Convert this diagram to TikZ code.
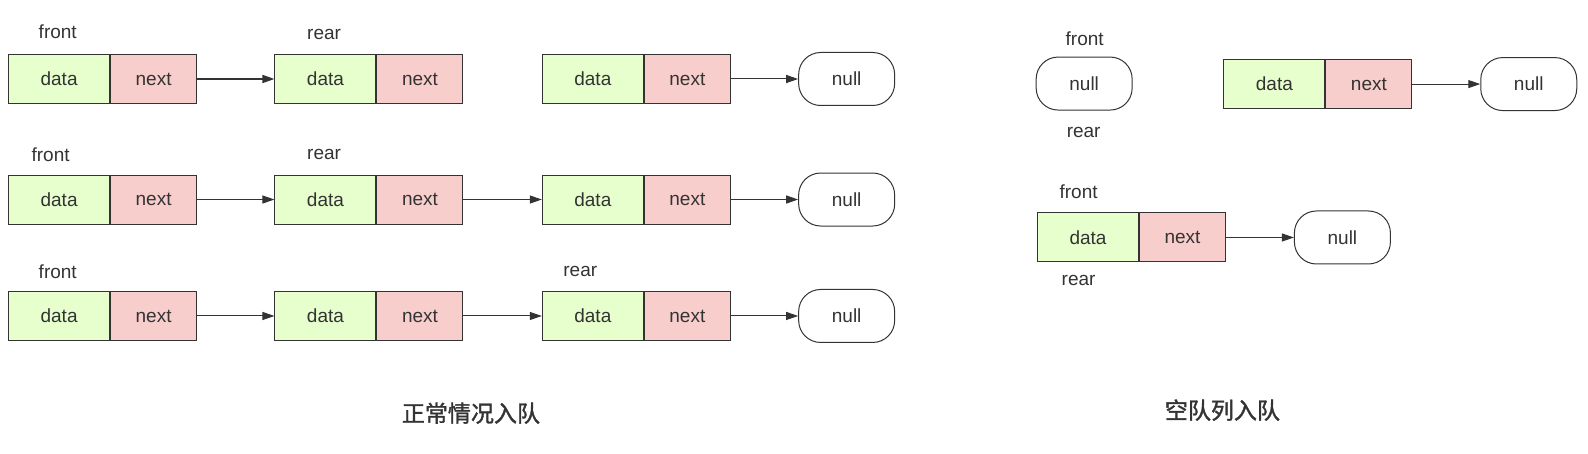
\documentclass[tikz,border=0pt]{standalone}
\usepackage{fontspec}
\setmainfont{Liberation Sans}
\newfontfamily\cjk[FakeBold=1.5]{Noto Sans CJK SC}
\usetikzlibrary{arrows.meta}
\definecolor{dgreen}{HTML}{E6FFCC}
\definecolor{npink}{HTML}{F8CECC}
\definecolor{ln}{HTML}{333333}
\tikzset{
  x=1.01276pt,y=-1.01276pt,
  cell/.style={draw=ln,line width=1pt,minimum height=49pt,inner sep=0pt,font=\fontsize{19}{22}\selectfont,text=ln},
  datac/.style={cell,fill=dgreen,minimum width=101pt,anchor=west},
  nextc/.style={cell,fill=npink,minimum width=86pt,anchor=west},
  nullc/.style={draw=ln,line width=1pt,rounded corners=22pt,minimum width=96pt,minimum height=53pt,inner sep=0pt,font=\fontsize{19}{22}\selectfont,text=ln},
  lbl/.style={font=\fontsize{19}{22}\selectfont,text=ln,inner sep=0pt},
  ttl/.style={font=\cjk\fontsize{23}{27}\selectfont,text=ln,inner sep=0pt},
  arr/.style={draw=ln,line width=1pt,-{Triangle[length=12pt,width=8pt]}},
}
\begin{document}
\begin{tikzpicture}
\useasboundingbox (0,0) rectangle (1568,448.28);
% row 1
\node[datac] (d11) at (8,78) {data};
\node[nextc] (n11) at (d11.east) {next};
\node[datac] (d12) at (271,78) {data};
\node[nextc] (n12) at (d12.east) {next};
\node[datac] (d13) at (535,78) {data};
\node[nextc] (n13) at (d13.east) {next};
\node[nullc] (z1) at (836,78) {null};
\node[lbl] (f1) at (57,31) {front};
\node[lbl] (r1) at (320,34) {rear};
\draw[arr,line width=1.6pt] (n11.east) -- (d12.west);
\draw[arr] (n13.east) -- (z1.west);
% row 2
\node[datac] (d21) at (8,197) {data};
\node[nextc] (n21) at (d21.east) {next};
\node[datac] (d22) at (271,197) {data};
\node[nextc] (n22) at (d22.east) {next};
\node[datac] (d23) at (535,197) {data};
\node[nextc] (n23) at (d23.east) {next};
\node[nullc] (z2) at (836,197) {null};
\node[lbl] (f2) at (50,153) {front};
\node[lbl] (r2) at (320,153) {rear};
\draw[arr] (n21.east) -- (d22.west);
\draw[arr] (n22.east) -- (d23.west);
\draw[arr] (n23.east) -- (z2.west);
% row 3
\node[datac] (d31) at (8,312) {data};
\node[nextc] (n31) at (d31.east) {next};
\node[datac] (d32) at (271,312) {data};
\node[nextc] (n32) at (d32.east) {next};
\node[datac] (d33) at (535,312) {data};
\node[nextc] (n33) at (d33.east) {next};
\node[nullc] (z3) at (836,312) {null};
\node[lbl] (f3) at (57,268) {front};
\node[lbl] (r3) at (573,268) {rear};
\draw[arr] (n31.east) -- (d32.west);
\draw[arr] (n32.east) -- (d33.west);
\draw[arr] (n33.east) -- (z3.west);
% right: empty queue
\node[nullc] (ze) at (1070.5,82.5) {null};
\node[lbl] (fe) at (1071,38) {front};
\node[lbl] (re) at (1070,131) {rear};
\node[datac] (de) at (1208,83) {data};
\node[nextc] (ne) at (de.east) {next};
\node[nullc] (zn) at (1509.5,83) {null};
\draw[arr] (ne.east) -- (zn.west);
\node[lbl] (fb) at (1065,189) {front};
\node[datac] (db) at (1024,234.5) {data};
\node[nextc] (nb) at (db.east) {next};
\node[nullc] (zb) at (1325.5,234.5) {null};
\node[lbl] (rb) at (1065,277) {rear};
\draw[arr] (nb.east) -- (zb.west);
% titles
\node[ttl] (t1) at (465,408) {正常情况入队};
\node[ttl] (t2) at (1207,405) {空队列入队};
\end{tikzpicture}
\end{document}
